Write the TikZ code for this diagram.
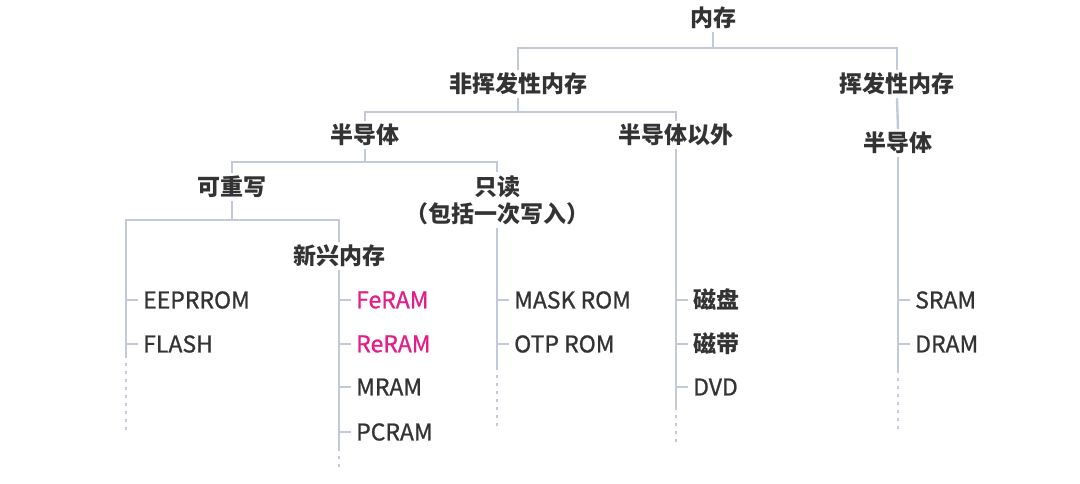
\documentclass[tikz,border=0pt]{standalone}
\usepackage{fontspec}
\setmainfont{Noto Sans CJK SC}
\newfontfamily\medfont[FakeBold=0.9]{Noto Sans CJK SC}
\usetikzlibrary{positioning}
\definecolor{linegray}{RGB}{194,201,216}
\definecolor{textgray}{RGB}{51,51,51}
\definecolor{hotpink}{RGB}{228,30,135}

\begin{document}
\begin{tikzpicture}[
    x=1pt, y=-1pt,
    head/.style={font=\fontsize{23}{27}\selectfont\bfseries, text=textgray, inner sep=3pt},
    leaf/.style={anchor=west, font=\medfont\fontsize{23}{27}\selectfont, text=textgray, inner sep=5pt},
    newleaf/.style={leaf, text=hotpink},
    cjkleaf/.style={leaf, font=\fontsize{23}{27}\selectfont\bfseries},
    conn/.style={draw=linegray, line width=2.4pt},
    more/.style={draw=linegray, line width=2.4pt, dash pattern=on 3pt off 5pt},
]
    \useasboundingbox (0,0) rectangle (1080,483);

    % headings
    \node [head] (mem) at (713,18) {内存};
    \node [head] (nv) at (518,84) {非挥发性内存};
    \node [head] (vol) at (897,84) {挥发性内存};
    \node [head] (semi) at (365,135) {半导体};
    \node [head] (nonsemi) at (676,135) {半导体以外};
    \node [head] (vsemi) at (898,143) {半导体};
    \node [head] (rw) at (232,187) {可重写};
    \node [head, align=center] (ro) at (497,200) {只读\\（包括一次写入）};
    \node [head] (emerg) at (339,256) {新兴内存};

    % tree branches
    \draw [conn] (mem.south) -- (mem.south |- 0,48);
    \draw [conn] (nv.north) -- (nv.north |- 0,48) -- (vol.north |- 0,48) -- (vol.north);
    \draw [conn] (vol.south) -- (vsemi.north);
    \draw [conn] (nv.south) -- (nv.south |- 0,112);
    \draw [conn] (semi.north) -- (semi.north |- 0,112) -- (nonsemi.north |- 0,112) -- (nonsemi.north);
    \draw [conn] (semi.south) -- (semi.south |- 0,162);
    \draw [conn] (rw.north) -- (rw.north |- 0,162) -- (ro.north |- 0,162) -- (ro.north);
    \draw [conn] (rw.south) -- (rw.south |- 0,220);

    % stems
    \coordinate (rwstem) at (126,355);
    \coordinate (emstem) at (339,448);
    \coordinate (rostem) at (497,367);
    \coordinate (nsstem) at (676,407);
    \coordinate (vsstem) at (898,370);
    \draw [conn] (rwstem) -- (rwstem |- 0,220) -| (emerg.north);
    \draw [conn] (emerg.south) -- (emstem);
    \draw [conn] (ro.south) -- (rostem);
    \draw [conn] (nonsemi.south) -- (nsstem);
    \draw [conn] (vsemi.south) -- (vsstem);
    \draw [more] (rwstem) -- ++(0,75);
    \draw [more] (emstem) -- ++(0,22);
    \draw [more] (rostem) -- ++(0,60);
    \draw [more] (nsstem) -- ++(0,36);
    \draw [more] (vsstem) -- ++(0,60);

    % leaves
    \node [leaf] (eep) at (138,300) {EEPRROM};
    \node [leaf] (flash) at (138,344) {FLASH};
    \node [newleaf] (fe) at (351,300) {FeRAM};
    \node [newleaf] (re) at (351,344) {ReRAM};
    \node [leaf] (mr) at (351,387) {MRAM};
    \node [leaf] (pc) at (351,432) {PCRAM};
    \node [leaf] (mask) at (509,300) {MASK ROM};
    \node [leaf] (otp) at (509,344) {OTP ROM};
    \node [cjkleaf] (disk) at (688,300) {磁盘};
    \node [cjkleaf] (tape) at (688,344) {磁带};
    \node [leaf] (dvd) at (688,387) {DVD};
    \node [leaf] (sram) at (910,300) {SRAM};
    \node [leaf] (dram) at (910,344) {DRAM};

    \draw [conn] (eep.west) -- (eep.west -| rwstem);
    \draw [conn] (flash.west) -- (flash.west -| rwstem);
    \draw [conn] (fe.west) -- (fe.west -| emstem);
    \draw [conn] (re.west) -- (re.west -| emstem);
    \draw [conn] (mr.west) -- (mr.west -| emstem);
    \draw [conn] (pc.west) -- (pc.west -| emstem);
    \draw [conn] (mask.west) -- (mask.west -| rostem);
    \draw [conn] (otp.west) -- (otp.west -| rostem);
    \draw [conn] (disk.west) -- (disk.west -| nsstem);
    \draw [conn] (tape.west) -- (tape.west -| nsstem);
    \draw [conn] (dvd.west) -- (dvd.west -| nsstem);
    \draw [conn] (sram.west) -- (sram.west -| vsstem);
    \draw [conn] (dram.west) -- (dram.west -| vsstem);
\end{tikzpicture}
\end{document}
